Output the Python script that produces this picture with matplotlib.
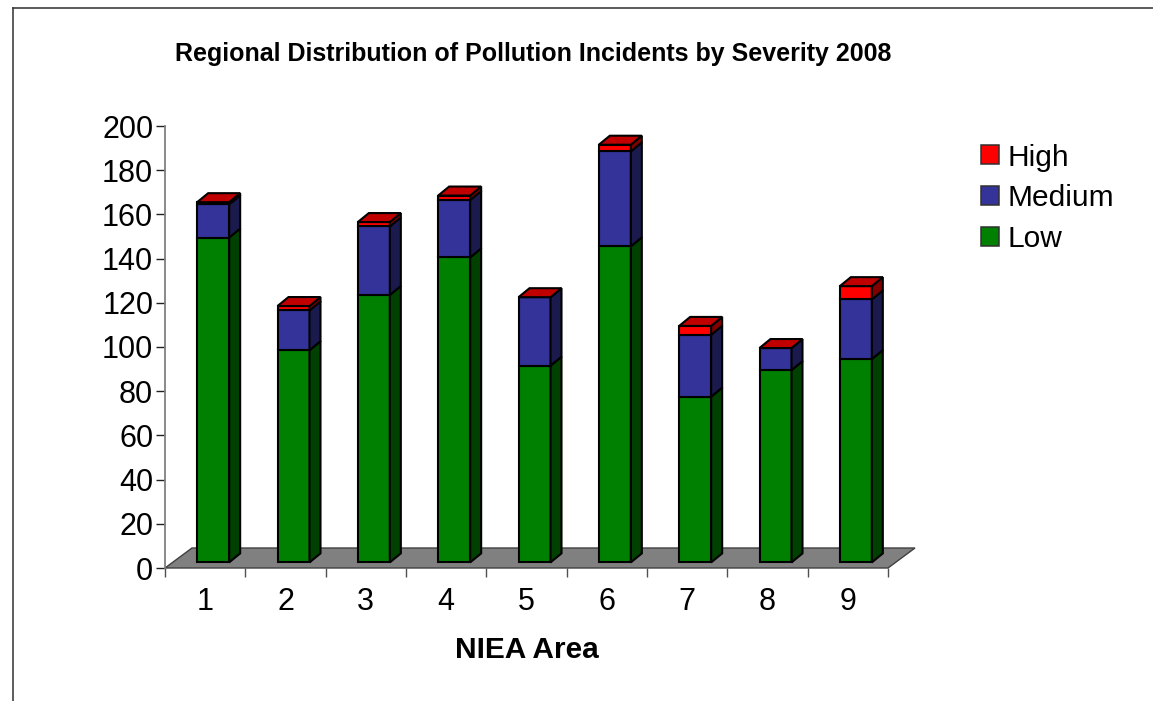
import matplotlib
matplotlib.use("Agg")
import matplotlib.pyplot as plt
import numpy as np
from matplotlib.lines import Line2D
from matplotlib.patches import Patch

# Values
areas = [1, 2, 3, 4, 5, 6, 7, 8, 9]
low = [147, 96, 121, 138, 89, 143, 75, 87, 92]
medium = [15, 18, 31, 26, 31, 43, 28, 10, 27]
high = [1, 2, 2, 2, 0, 3, 4, 0, 6]
y_ticks = list(range(0, 201, 20))

# Pixel layout of the reference
W, H = 1153, 701
AX_L, AX_R, AX_T, AX_B = 165, 888, 126, 568
PX_X = (AX_R - AX_L) / 9
PX_Y = (AX_B - AX_T) / 200

BAR_W = 32 / PX_X
BAR_SHIFT = 8 / PX_X
BASE = 5.6 / PX_Y
DX, DY = 11 / PX_X, 9 / PX_Y
FLOOR_DX, FLOOR_DY = 27 / PX_X, 20 / PX_Y

plt.rcParams["font.family"] = ["Liberation Sans", "DejaVu Sans"]

fig = plt.figure(figsize=(W / 100, H / 100), dpi=100)
ax = fig.add_axes([AX_L / W, 1 - AX_B / H, (AX_R - AX_L) / W, (AX_B - AX_T) / H])
ax.set_xlim(0.5, 9.5)
ax.set_ylim(0, 200)
ax.patch.set_visible(False)

# Frame of the chart area, cut off on the right and at the bottom
fig.add_artist(Line2D([12.5 / W, 12.5 / W], [0, 1 - 7.5 / H], color="#303030", lw=1.1))
fig.add_artist(Line2D([12.5 / W, 1], [1 - 7.5 / H, 1 - 7.5 / H], color="#303030", lw=1.1))

# Floor
ax.fill([0.5, 9.5, 9.5 + FLOOR_DX, 0.5 + FLOOR_DX], [0, 0, FLOOR_DY, FLOOR_DY],
        facecolor="#808080", edgecolor="#404040", lw=1.0, clip_on=False, zorder=1)

series = [
    (low, "#008000", "#004000"),
    (medium, "#333399", "#1A1A4D"),
    (high, "#FF0000", "#800000"),
]
edge = dict(edgecolor="black", linewidth=1.5, clip_on=False, zorder=3)

bottoms = np.full(len(areas), BASE, dtype=float)
x = np.array(areas, dtype=float) + BAR_SHIFT
for values, front, side in series:
    values = np.array(values, dtype=float)
    ax.bar(x, values, BAR_W, bottom=bottoms, color=front, **edge)
    for xi, b, v in zip(x, bottoms, values):
        xr = xi + BAR_W / 2
        ax.fill([xr, xr + DX, xr + DX, xr], [b, b + DY, b + v + DY, b + v],
                facecolor=side, **edge)
    bottoms = bottoms + values

for xi, top in zip(x, bottoms):
    xl, xr = xi - BAR_W / 2, xi + BAR_W / 2
    ax.fill([xl, xr, xr + DX, xl + DX], [top, top, top + DY, top + DY],
            facecolor="#C00000", **edge)

# Axes
for s in ["top", "right", "bottom"]:
    ax.spines[s].set_visible(False)
ax.spines["left"].set_color("#808080")
ax.spines["left"].set_linewidth(1.3)
ax.set_yticks(y_ticks)
ax.tick_params(axis="y", labelsize=22, length=6.5, width=1.0, color="#202020", pad=2)
ax.set_xticks(areas)
ax.set_xticks(np.arange(0.5, 10, 1), minor=True)
ax.tick_params(axis="x", which="major", labelsize=22, length=0, pad=13.5)
ax.tick_params(axis="x", which="minor", length=6.5, width=1.0, color="#505050")
ax.set_xlabel("NIEA Area", fontsize=21.5, fontweight="bold", labelpad=13.5)

fig.text(533 / W, 1 - 54 / H, "Regional Distribution of Pollution Incidents by Severity 2008",
         fontsize=18, fontweight="bold", ha="center", va="center")

handles = [
    Patch(facecolor="#FF0000", edgecolor="#303030", lw=1.1, label="High"),
    Patch(facecolor="#333399", edgecolor="#303030", lw=1.1, label="Medium"),
    Patch(facecolor="#008000", edgecolor="#303030", lw=1.1, label="Low"),
]
ax.legend(handles=handles, loc="upper left", bbox_to_anchor=(981 / W, 1 - 143.5 / H),
          bbox_transform=fig.transFigure, frameon=False, fontsize=21.5, borderpad=0,
          borderaxespad=0, handlelength=0.6, handleheight=0.6, handletextpad=0.3,
          labelspacing=0.42)

fig.savefig("out.png", dpi=100)
